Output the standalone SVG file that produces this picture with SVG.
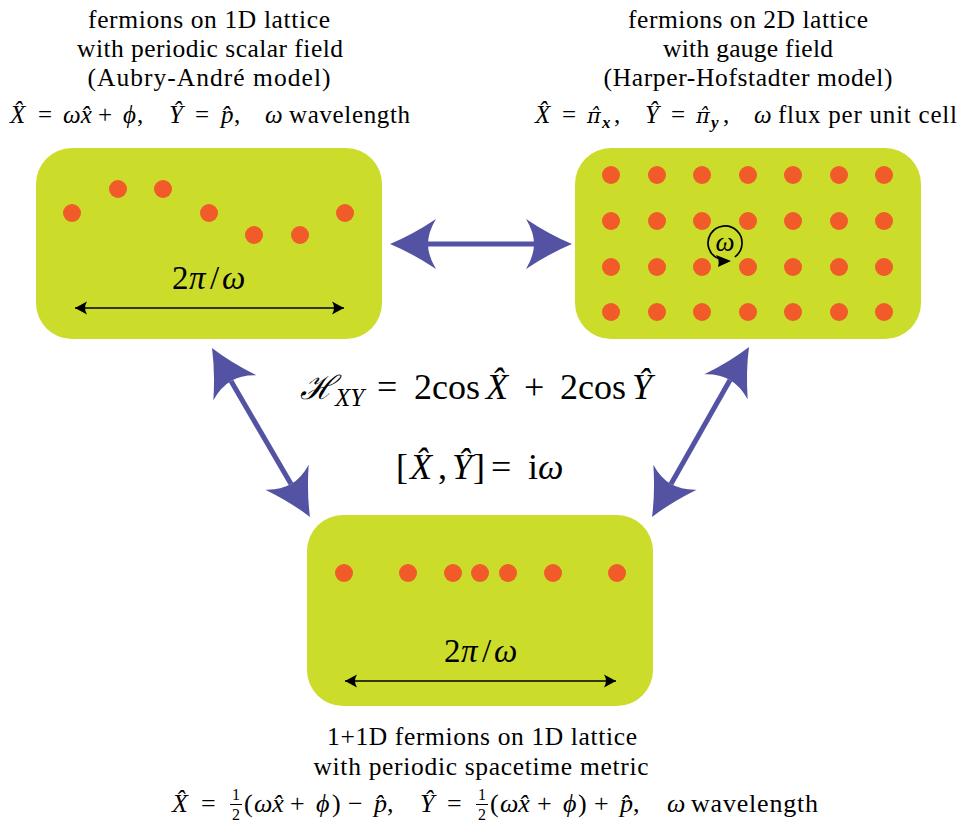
<svg xmlns="http://www.w3.org/2000/svg" xmlns:xlink="http://www.w3.org/1999/xlink" width="964" height="829" viewBox="0 0 964 829">
<style>
text{font-family:"Liberation Serif","DejaVu Serif",serif;fill:#000}
.t{font-size:25.5px;text-anchor:middle}
.m{font-size:25px}
.mb{font-size:26px}
.b{font-size:36px}
.i{font-style:italic}
.dv{font-family:"DejaVu Serif",serif;font-size:21px}
.box{fill:#CBDC2B}
.dot{fill:#F15A29}
.big{stroke:#5452A3;stroke-width:5;fill:none}
.head{fill:#5452A3}
.dim{stroke:#000;stroke-width:1.6;fill:none;marker-start:url(#sa);marker-end:url(#sa)}
</style>
<defs>
<path id="hd" class="head" d="M0,0 Q-22,-9 -46,-25 Q-38,-12 -38,0 Q-38,12 -46,25 Q-22,9 0,0 Z"/>
<marker id="sa" viewBox="-14 -8 16 16" refX="0" refY="0" markerWidth="16" markerHeight="16" markerUnits="userSpaceOnUse" orient="auto-start-reverse">
<path d="M0,0 L-12,-6.5 Q-8,0 -12,6.5 Z" fill="#000"/>
</marker>
</defs>

<g id="labels">
<text class="t" x="209" y="28" textLength="242" lengthAdjust="spacing">fermions on 1D lattice</text>
<text class="t" x="210" y="57" textLength="266" lengthAdjust="spacing">with periodic scalar field</text>
<text class="t" x="209" y="86" textLength="243" lengthAdjust="spacing">(Aubry-André model)</text>
<text class="m" y="123"><tspan x="10" class="i">X̂</tspan><tspan x="38">=</tspan><tspan x="63" class="i">ωx̂</tspan><tspan x="98">+</tspan><tspan x="123" class="i">ϕ</tspan><tspan x="137">,</tspan><tspan x="169" class="i">Ŷ</tspan><tspan x="195">=</tspan><tspan x="221" class="i">p̂</tspan><tspan x="234">,</tspan><tspan x="265" class="i">ω</tspan></text>
<text class="m" x="289" y="123" textLength="121" lengthAdjust="spacing">wavelength</text>

<text class="t" x="748" y="28" textLength="240" lengthAdjust="spacing">fermions on 2D lattice</text>
<text class="t" x="748" y="57" textLength="170" lengthAdjust="spacing">with gauge field</text>
<text class="t" x="748" y="86" textLength="289" lengthAdjust="spacing">(Harper-Hofstadter model)</text>
<text class="m" y="123"><tspan x="535" class="i">X̂</tspan><tspan x="562">=</tspan><tspan x="587" class="i dv">π̂</tspan><tspan x="602" y="128" class="i" font-weight="bold" font-size="17">x</tspan><tspan x="614" y="123">,</tspan><tspan x="645" class="i">Ŷ</tspan><tspan x="671">=</tspan><tspan x="696" class="i dv">π̂</tspan><tspan x="711" y="128" class="i" font-weight="bold" font-size="17">y</tspan><tspan x="723" y="123">,</tspan><tspan x="754" class="i">ω</tspan></text>
<text class="m" x="778" y="123" textLength="179" lengthAdjust="spacing">flux per unit cell</text>

<text class="b" y="399"><tspan x="300" class="i" font-size="33">ℋ</tspan><tspan x="335" y="406" class="i" font-size="25">XY</tspan><tspan x="377" y="399">=</tspan><tspan x="414">2</tspan><tspan x="432">cos</tspan><tspan x="486" class="i">X̂</tspan><tspan x="524">+</tspan><tspan x="560">2</tspan><tspan x="578">cos</tspan><tspan x="632" class="i">Ŷ</tspan></text>
<text class="b" y="479" font-size="35"><tspan x="396">[</tspan><tspan x="410" class="i">X̂</tspan><tspan x="438">,</tspan><tspan x="452" class="i">Ŷ</tspan><tspan x="473">]</tspan><tspan x="491">=</tspan><tspan x="528">i</tspan><tspan x="538" class="i">ω</tspan></text>

<text class="t" x="482" y="745" textLength="310" lengthAdjust="spacing">1+1D fermions on 1D lattice</text>
<text class="t" x="481" y="775" textLength="335" lengthAdjust="spacing">with periodic spacetime metric</text>
<text class="mb" y="812"><tspan x="172" class="i">X̂</tspan><tspan x="201">=</tspan><tspan x="244">(</tspan><tspan x="254" class="i">ωx̂</tspan><tspan x="290">+</tspan><tspan x="316" class="i">ϕ</tspan><tspan x="332">)</tspan><tspan x="348">−</tspan><tspan x="374" class="i">p̂</tspan><tspan x="387">,</tspan><tspan x="420" class="i">Ŷ</tspan><tspan x="447">=</tspan><tspan x="490">(</tspan><tspan x="500" class="i">ωx̂</tspan><tspan x="537">+</tspan><tspan x="563" class="i">ϕ</tspan><tspan x="578">)</tspan><tspan x="594">+</tspan><tspan x="620" class="i">p̂</tspan><tspan x="633">,</tspan><tspan x="667" class="i">ω</tspan></text>
<text class="mb" x="691" y="812" textLength="127" lengthAdjust="spacing">wavelength</text>
<text x="236" y="800" font-size="16" text-anchor="middle">1</text>
<line x1="230" y1="804.5" x2="242" y2="804.5" stroke="#000" stroke-width="1"/>
<text x="236" y="820" font-size="16" text-anchor="middle">2</text>
<text x="482" y="800" font-size="16" text-anchor="middle">1</text>
<line x1="476" y1="804.5" x2="488" y2="804.5" stroke="#000" stroke-width="1"/>
<text x="482" y="820" font-size="16" text-anchor="middle">2</text>
</g>

<g id="node-aubry">
<rect class="box" x="36" y="148" width="346" height="191" rx="36"/>
<circle class="dot" cx="72" cy="213" r="9"/>
<circle class="dot" cx="118" cy="189" r="9"/>
<circle class="dot" cx="163" cy="189" r="9"/>
<circle class="dot" cx="209" cy="213" r="9"/>
<circle class="dot" cx="254" cy="235" r="9"/>
<circle class="dot" cx="300" cy="235" r="9"/>
<circle class="dot" cx="345" cy="213" r="9"/>
<line class="dim" x1="75" y1="308" x2="344" y2="308"/>
<text y="289" font-size="33"><tspan x="172">2</tspan><tspan x="189" class="i">π</tspan><tspan x="210">/</tspan><tspan x="222" class="i">ω</tspan></text>
</g>

<g id="node-hofstadter">
<rect class="box" x="575" y="148" width="346" height="191" rx="36"/>
<g class="dot">
<circle cx="611" cy="175" r="9"/><circle cx="657" cy="175" r="9"/><circle cx="702" cy="175" r="9"/><circle cx="748" cy="175" r="9"/><circle cx="793" cy="175" r="9"/><circle cx="839" cy="175" r="9"/><circle cx="884" cy="175" r="9"/>
<circle cx="611" cy="221" r="9"/><circle cx="657" cy="221" r="9"/><circle cx="702" cy="221" r="9"/><circle cx="748" cy="221" r="9"/><circle cx="793" cy="221" r="9"/><circle cx="839" cy="221" r="9"/><circle cx="884" cy="221" r="9"/>
<circle cx="611" cy="267" r="9"/><circle cx="657" cy="267" r="9"/><circle cx="702" cy="267" r="9"/><circle cx="748" cy="267" r="9"/><circle cx="793" cy="267" r="9"/><circle cx="839" cy="267" r="9"/><circle cx="884" cy="267" r="9"/>
<circle cx="611" cy="312" r="9"/><circle cx="657" cy="312" r="9"/><circle cx="702" cy="312" r="9"/><circle cx="748" cy="312" r="9"/><circle cx="793" cy="312" r="9"/><circle cx="839" cy="312" r="9"/><circle cx="884" cy="312" r="9"/>
</g>
<path d="M734.8,256.9 A17,17 0 1 0 718.8,258.8" fill="none" stroke="#000" stroke-width="1.7"/>
<path d="M731,261 L716,255 Q720,260 718,267 Z" fill="#000"/>
<text x="725" y="251" font-size="27" text-anchor="middle" class="i">ω</text>
</g>

<g id="node-metric">
<rect class="box" x="307" y="515" width="346" height="191" rx="36"/>
<circle class="dot" cx="344" cy="573" r="9"/>
<circle class="dot" cx="408" cy="573" r="9"/>
<circle class="dot" cx="453" cy="573" r="9"/>
<circle class="dot" cx="480" cy="573" r="9"/>
<circle class="dot" cx="508" cy="573" r="9"/>
<circle class="dot" cx="553" cy="573" r="9"/>
<circle class="dot" cx="617" cy="573" r="9"/>
<line class="dim" x1="345" y1="681" x2="616" y2="681"/>
<text y="662" font-size="33"><tspan x="444">2</tspan><tspan x="461" class="i">π</tspan><tspan x="482">/</tspan><tspan x="494" class="i">ω</tspan></text>
</g>

<g id="connectors">
<line class="big" x1="426" y1="244" x2="536" y2="244"/>
<use xlink:href="#hd" transform="translate(390,244) rotate(180)"/>
<use xlink:href="#hd" transform="translate(572,244)"/>
<line class="big" x1="231" y1="381" x2="291" y2="484"/>
<use xlink:href="#hd" transform="translate(212,348) rotate(240)"/>
<use xlink:href="#hd" transform="translate(310,517) rotate(60)"/>
<line class="big" x1="730" y1="380" x2="671" y2="484"/>
<use xlink:href="#hd" transform="translate(749,347) rotate(-60)"/>
<use xlink:href="#hd" transform="translate(652,517) rotate(120)"/>
</g>
</svg>
